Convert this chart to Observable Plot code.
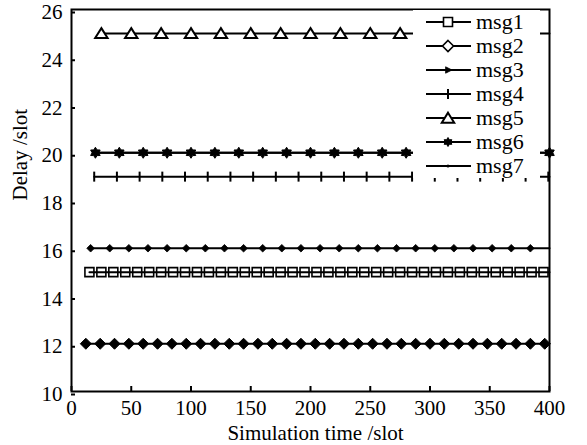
<!DOCTYPE html>
<html><head><meta charset="utf-8">
<script src="https://cdn.jsdelivr.net/npm/d3@7"></script>
<script src="https://cdn.jsdelivr.net/npm/@observablehq/plot@0.6"></script>
<style>body{margin:0;background:#fff}</style>
</head><body><div id="chart"></div>
<script>
// ---- data ----
const names = ["msg1","msg2","msg3","msg4","msg5","msg6","msg7"];
const delays = [15,12,16,19,25,20,20];
const msg1Times = [15,25,35,45,55,65,75,85,95,105,115,125,135,145,155,165,175,185,195,205,215,225,235,245,255,265,275,285,295,305,315,325,335,345,355,365,375,385,395];
const msg2Times = [12,24,36,48,60,72,84,96,108,120,132,144,156,168,180,192,204,216,228,240,252,264,276,288,300,312,324,336,348,360,372,384,396];
const msg3Times = [16,32,48,64,80,96,112,128,144,160,176,192,208,224,240,256,272,288,304,320,336,352,368,384];
const msg4Times = [19,38,57,76,95,114,133,152,171,190,209,228,247,266,285,304,323,342,361,380,399];
const msg5Times = [25,50,75,100,125,150,175,200,225,250,275,300,325,350,375];
const msg6Times = [20,40,60,80,100,120,140,160,180,200,220,240,260,280,300,320,340,360,380,400];
const msg7Times = [20,40,60,80,100,120,140,160,180,200,220,240,260,280,300,320,340,360,380,400];
const lineEnd = 400;
const xTicks = [0,50,100,150,200,250,300,350,400];
const yTicks = [10,12,14,16,18,20,22,24,26];
const xLabel = "Simulation time /slot";
const yLabel = "Delay /slot";

// ---- symbols ----
const rad = s => Math.sqrt(s / Math.PI);
const symSquare = {draw(c, s){const r = rad(s); c.rect(-r, -r, 2*r, 2*r);}};
const symDiamond = {draw(c, s){const r = rad(s); c.moveTo(0,-r); c.lineTo(r,0); c.lineTo(0,r); c.lineTo(-r,0); c.closePath();}};
const symRightTri = {draw(c, s){const r = rad(s); c.moveTo(r,0); c.lineTo(-r*0.6,-r*0.8); c.lineTo(-r*0.6,r*0.8); c.closePath();}};
const symVTick = {draw(c, s){const r = rad(s); c.moveTo(0,-r); c.lineTo(0,r);}};
const symTri = {draw(c, s){const r = rad(s); c.moveTo(0,-r*0.85); c.lineTo(r,r*0.75); c.lineTo(-r,r*0.75); c.closePath();}};
const symHex = {draw(c, s){const R = rad(s), ri = R*0.6; for (let k = 0; k < 12; k++){const a = -Math.PI/2 + k*Math.PI/6; const rr = k%2 ? ri : R; const px = rr*Math.cos(a), py = rr*Math.sin(a); if (k) c.lineTo(px,py); else c.moveTo(px,py);} c.closePath();}};
const symDot = {draw(c, s){const r = rad(s); c.moveTo(r,0); c.arc(0,0,r,0,2*Math.PI);}};

const allTimes = [msg1Times,msg2Times,msg3Times,msg4Times,msg5Times,msg6Times,msg7Times];
const plotStyle = [
  {symbol: symSquare, r: 4.5, fill: "none", stroke: "black", sw: 1.6},
  {symbol: symDiamond, r: 5.5, fill: "black", stroke: "black", sw: 1},
  {symbol: symDiamond, r: 3.8, fill: "black", stroke: "black", sw: 0.8},
  {symbol: symVTick, r: 5, fill: "none", stroke: "black", sw: 2},
  {symbol: symTri, r: 6.2, fill: "white", stroke: "black", sw: 2},
  {symbol: symHex, r: 5.5, fill: "black", stroke: "black", sw: 1},
  {symbol: symDot, r: 1.2, fill: "black", stroke: "none", sw: 0}
];
const legendStyle = [
  {symbol: symSquare, r: 4.5, fill: "white", stroke: "black", sw: 1.6},
  {symbol: symDiamond, r: 5.5, fill: "white", stroke: "black", sw: 1.6},
  {symbol: symRightTri, r: 4, fill: "black", stroke: "black", sw: 0.8},
  {symbol: symVTick, r: 5, fill: "none", stroke: "black", sw: 2},
  {symbol: symTri, r: 6.2, fill: "white", stroke: "black", sw: 2},
  {symbol: symHex, r: 4.5, fill: "black", stroke: "black", sw: 1},
  {symbol: symDot, r: 1.5, fill: "black", stroke: "none", sw: 0}
];

const marks = [];
names.forEach((n, i) => {
  const pts = allTimes[i].map(t => ({t, d: delays[i]}));
  const linePts = pts.concat(allTimes[i][allTimes[i].length-1] < lineEnd ? [{t: lineEnd, d: delays[i]}] : []);
  marks.push(Plot.line(linePts, {x: "t", y: "d", stroke: "black", strokeWidth: 2}));
  const st = plotStyle[i];
  marks.push(Plot.dot(pts, {x: "t", y: "d", symbol: st.symbol, r: st.r, fill: st.fill, stroke: st.stroke, strokeWidth: st.sw}));
});

const chart = Plot.plot({
  width: 587, height: 445,
  marginLeft: 71, marginRight: 38, marginTop: 9, marginBottom: 54,
  x: {domain: [0, 400]},
  y: {domain: [10, 26]},
  style: {fontFamily: "'Liberation Serif', serif", fontSize: "21px", background: "white", color: "black"},
  marks: [
    ...marks,
    Plot.axisX(xTicks, {anchor: "bottom", tickSize: -5, tickPadding: 14, strokeWidth: 2, label: null, fontSize: 21}),
    Plot.axisY(yTicks, {anchor: "left", tickSize: -4, tickPadding: 13, strokeWidth: 2, label: null, fontSize: 21, dy: 3}),
    Plot.text([xLabel], {frameAnchor: "bottom", dy: 42, dx: 5, fontSize: 21, lineAnchor: "middle"}),
    Plot.text([yLabel], {frameAnchor: "left", dx: -51, rotate: -90, fontSize: 21, lineAnchor: "middle"}),
    Plot.frame({stroke: "black", strokeWidth: 2})
  ]
});
document.getElementById("chart").appendChild(chart);

// ---- legend ----
const svg = d3.select(chart);
const lg = svg.append("g").attr("class", "legend");
lg.append("rect").attr("x", 413).attr("y", 10).attr("width", 127).attr("height", 168).attr("fill", "white");
names.forEach((n, i) => {
  const y = 22 + i * 24;
  const st = legendStyle[i];
  lg.append("line").attr("x1", 426).attr("x2", 471).attr("y1", y).attr("y2", y).attr("stroke", "black").attr("stroke-width", 2);
  lg.append("path").attr("transform", `translate(448,${y})`)
    .attr("d", d3.symbol(st.symbol, Math.PI * st.r * st.r)())
    .attr("fill", st.fill).attr("stroke", st.stroke).attr("stroke-width", st.sw);
  lg.append("text").attr("x", 476).attr("y", y).attr("dy", "0.32em").attr("text-anchor", "start")
    .attr("font-family", "'Liberation Serif', serif").attr("font-size", 22).attr("fill", "black").text(n);
});
</script></body></html>
